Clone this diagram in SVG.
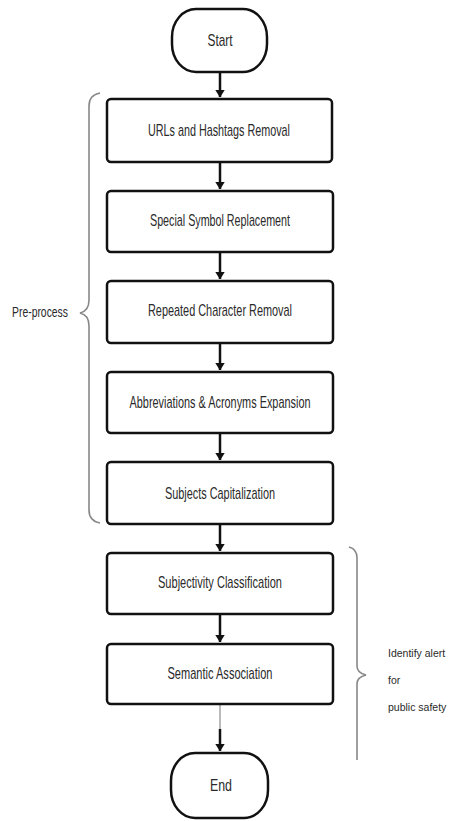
<svg xmlns="http://www.w3.org/2000/svg" width="449" height="821" viewBox="0 0 449 821">
<style>
.box{fill:#fff;stroke:#111;stroke-width:2.5}
.term{fill:#fff;stroke:#111;stroke-width:2.5}
.t{font-family:"Liberation Sans",Arial,sans-serif;font-size:17px;fill:#2a2a2a;text-anchor:middle;dominant-baseline:central}
.l{font-family:"Liberation Sans",Arial,sans-serif;font-size:15px;fill:#2a2a2a;dominant-baseline:central}
.r{font-family:"Liberation Sans",Arial,sans-serif;font-size:10.5px;fill:#2a2a2a;dominant-baseline:central}
.conn{stroke:#111;stroke-width:2.5;fill:none}
.brace{stroke:#888;stroke-width:1.6;fill:none}
</style>
<defs>
<marker id="ah" viewBox="0 0 8 10" refX="7.5" refY="5" markerWidth="3" markerHeight="4" orient="auto" markerUnits="strokeWidth">
<path d="M0,0 L8,5 L0,10 Z" fill="#111"/>
</marker>
</defs>
<rect width="449" height="821" fill="#fff"/>
<g id="connectors">
<line class="conn" x1="220" y1="73" x2="220" y2="97" marker-end="url(#ah)"/>
<line class="conn" x1="220" y1="163" x2="220" y2="189" marker-end="url(#ah)"/>
<line class="conn" x1="220" y1="253" x2="220" y2="279" marker-end="url(#ah)"/>
<line class="conn" x1="220" y1="344" x2="220" y2="370" marker-end="url(#ah)"/>
<line class="conn" x1="220" y1="434" x2="220" y2="460" marker-end="url(#ah)"/>
<line class="conn" x1="220" y1="525" x2="220" y2="551" marker-end="url(#ah)"/>
<line class="conn" x1="220" y1="615" x2="220" y2="642" marker-end="url(#ah)"/>
<line x1="220" y1="705" x2="220" y2="730" stroke="#777" stroke-width="1"/>
<line class="conn" x1="220" y1="729" x2="220" y2="751" marker-end="url(#ah)"/>
</g>
<g id="start">
<rect class="term" x="172" y="9" width="95" height="63" rx="24" ry="28"/>
<text class="t" x="220" y="40" textLength="25" lengthAdjust="spacingAndGlyphs">Start</text>
</g>
<g id="n1">
<rect class="box" x="107" y="99" width="225" height="63" rx="4"/>
<text class="t" x="219" y="130" textLength="142" lengthAdjust="spacingAndGlyphs">URLs and Hashtags Removal</text>
</g>
<g id="n2">
<rect class="box" x="107" y="191" width="226" height="61" rx="4"/>
<text class="t" x="220" y="220" textLength="140" lengthAdjust="spacingAndGlyphs">Special Symbol Replacement</text>
</g>
<g id="n3">
<rect class="box" x="107" y="281" width="226" height="62" rx="4"/>
<text class="t" x="220" y="310" textLength="144" lengthAdjust="spacingAndGlyphs">Repeated Character Removal</text>
</g>
<g id="n4">
<rect class="box" x="107" y="372" width="226" height="61" rx="4"/>
<text class="t" x="220" y="402" textLength="181" lengthAdjust="spacingAndGlyphs">Abbreviations &amp; Acronyms Expansion</text>
</g>
<g id="n5">
<rect class="box" x="107" y="462" width="226" height="62" rx="4"/>
<text class="t" x="220" y="493" textLength="110" lengthAdjust="spacingAndGlyphs">Subjects Capitalization</text>
</g>
<g id="n6">
<rect class="box" x="107" y="553" width="226" height="61" rx="4"/>
<text class="t" x="220" y="582" textLength="124" lengthAdjust="spacingAndGlyphs">Subjectivity Classification</text>
</g>
<g id="n7">
<rect class="box" x="107" y="644" width="226" height="60" rx="4"/>
<text class="t" x="220" y="673" textLength="105" lengthAdjust="spacingAndGlyphs">Semantic Association</text>
</g>
<g id="end">
<rect class="term" x="171" y="753" width="97" height="65" rx="24" ry="28"/>
<text class="t" x="221" y="785" textLength="22" lengthAdjust="spacingAndGlyphs">End</text>
</g>
<g id="preprocess">
<path class="brace" d="M100,93 Q89,95 89,106 L89,300 Q89,311 80,313 Q89,315 89,326 L89,510 Q89,521 100,523"/>
<text class="l" x="12" y="311" textLength="56" lengthAdjust="spacingAndGlyphs">Pre-process</text>
</g>
<g id="identify">
<path class="brace" d="M349,547 Q357,549 357,558 L357,666 Q357,673 366,675 Q357,677 357,684 L357,760"/>
<text class="r" x="388" y="653">Identify alert</text>
<text class="r" x="388" y="680">for</text>
<text class="r" x="388" y="707">public safety</text>
</g>
</svg>
